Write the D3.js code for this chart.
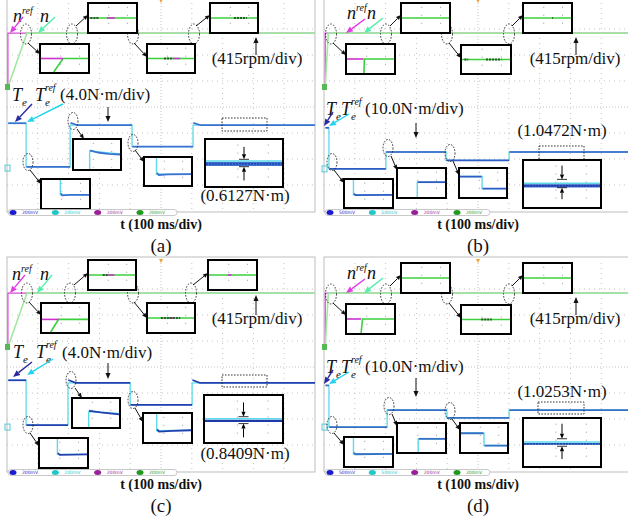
<!DOCTYPE html>
<html><head><meta charset="utf-8">
<script src="https://cdn.jsdelivr.net/npm/d3@7"></script>
<style>body{margin:0;background:#fff}svg{display:block}</style>
</head><body>
<svg id="c" width="628" height="522"></svg>
<script>
// ================= DATA =================
const panelNames = ["(a)", "(b)", "(c)", "(d)"];
const timeLabel = "t (100 ms/div)";
const speedDivLabel = "(415rpm/div)";
const torqueDivLabel = ["(4.0N·m/div)", "(10.0N·m/div)", "(4.0N·m/div)", "(10.0N·m/div)"];
const rippleLabel = ["(0.6127N·m)", "(1.0472N·m)", "(0.8409N·m)", "(1.0253N·m)"];
const torquePerDiv = [4, 10, 4, 10];          // N·m per division
const rpmPerDiv = 415;                         // rpm per division
const speedRefRpm = [860, 860, 860, 860];      // speed reference (rpm)
const refStepMs = [3, 4, 3, 4];                // time of speed reference step
const speedReachMs = [65, 14, 65, 14];         // time speed reaches reference
const torqueStepMs = [[3, 62, 205, 406, 604], [4, 16, 201, 396, 601], [3, 62, 198, 400, 601], [4, 16, 205, 399, 601]];
const torqueLevelNm = [[6.9, 0.2, 6.6, 3.3, 6.6], [15.8, 0, 6.5, 3.3, 6.5], [7.2, 0.3, 6.8, 3.4, 6.8], [16, 0, 6.5, 3.5, 6.5]];
const torqueOvershootNm = [0.35, 0, 0.45, 0];
const channelVolts = [["200mV", "200mV", "200mV", "200mV"], ["500mV", "500mV", "200mV", "200mV"],
                      ["200mV", "200mV", "200mV", "200mV"], ["500mV", "500mV", "200mV", "200mV"]];
const gridDivX = d3.range(0, 11);   // 10 horizontal divisions
const gridDivY = d3.range(-4, 5);   // 8 vertical divisions

// zoomed speed insets: [time frac, amplitude frac]
const speedZoom = [
  [{ meas: [[.27, 1], [.47, .5], [1, .5]], ref: [[0, .5], [.47, .5]], dark: [] },
   { meas: [[0, .5], [1, .5]], ref: [[.38, .5], [.55, .5]], dark: [[.03, .22]] },
   { meas: [[0, .5], [1, .5]], ref: [[.55, .5], [.7, .5]], dark: [[.35, .55]] },
   { meas: [[0, .5], [1, .5]], ref: [], dark: [[.5, .78]] }],
  [{ meas: [[.36, 1], [.37, .5], [1, .5]], ref: [[0, .5], [.35, .5]], dark: [] },
   { meas: [[0, .5], [1, .5]], ref: [], dark: [] },
   { meas: [[0, .5], [1, .5]], ref: [], dark: [[.05, .13], [.5, .82]] },
   { meas: [[0, .5], [1, .5]], ref: [], dark: [[.6, .62]] }],
  [{ meas: [[.19, 1], [.36, .55], [1, .55]], ref: [[0, .55], [.36, .55]], dark: [] },
   { meas: [[0, .5], [1, .5]], ref: [[.42, .5], [.55, .5]], dark: [[.3, .42]] },
   { meas: [[0, .5], [1, .5]], ref: [[.45, .5], [.55, .5]], dark: [[.28, .7]] },
   { meas: [[0, .5], [1, .5]], ref: [[.4, .5], [.48, .5]], dark: [] }],
  [{ meas: [[.3, 1], [.33, .5], [1, .5]], ref: [[0, .5], [.3, .5]], dark: [] },
   { meas: [[0, .5], [1, .5]], ref: [], dark: [] },
   { meas: [[0, .5], [1, .5]], ref: [], dark: [[.4, .62]] },
   { meas: [[0, .5], [1, .5]], ref: [], dark: [] }]
];
// zoomed torque insets (transients)
const torqueZoom = [
  [{ ref: [[.39, 0], [.39, .53], [1, .53]], meas: [[.4, .47], [.43, .55], [.6, .53], [1, .53]] },
   { ref: [[.34, 1], [.34, .38], [1, .48]], meas: [[.35, .36], [.4, .38], [.55, .44], [.75, .48], [1, .5]] },
   { ref: [[.25, 0], [.25, .6], [1, .6]], meas: [[.26, .55], [.3, .63], [.5, .61], [1, .6]] }],
  [{ ref: [[.18, 0], [.18, .55], [1, .55]], meas: [[.19, .5], [.22, .56], [1, .55]] },
   { ref: [[.41, 1], [.41, .47], [1, .47]], meas: [[.42, .47], [1, .47]] },
   { ref: [[0, .27], [.48, .27], [.48, .7], [1, .7]], meas: [[0, .27], [.47, .27], [NaN, NaN], [.49, .7], [1, .7]] }],
  [{ ref: [[.37, 0], [.37, .55], [1, .55]], meas: [[.38, .5], [.42, .57], [1, .55]] },
   { ref: [[.34, 1], [.34, .45], [1, .52]], meas: [[.35, .42], [.4, .43], [.6, .48], [1, .55]] },
   { ref: [[.27, 0], [.27, .6], [1, .58]], meas: [[.28, .55], [.32, .63], [.6, .6], [1, .58]] }],
  [{ ref: [[.18, 0], [.18, .57], [1, .57]], meas: [[.19, .52], [.22, .58], [1, .57]] },
   { ref: [[.43, 1], [.43, .53], [1, .53]], meas: [[.44, .53], [1, .53]] },
   { ref: [[0, .33], [.5, .33], [.5, .77], [1, .77]], meas: [[0, .33], [.49, .33], [NaN, NaN], [.51, .77], [1, .77]] }]
];
// steady-state ripple band in zoomed inset: [centre frac, width frac]
const rippleBand = [[.52, .09], [.54, .07], [.54, .05], [.53, .04]];

// ================= LAYOUT / STYLE =================
const panelOffset = [[0, 0], [317, 0], [0, 260], [317, 260]];
const speedZeroDiv = 0.77;
const torqueZeroDiv = [-2.35, -2.38, -2.31, -2.31];
const measColor = ["#3b72d2", "#2f5cc4", "#2240b0", "#3470c4"];
const C = { mag: "#d64ad6", green: "#9fe89f", igreen: "#3ccf3c", cyan: "#5fd9ea", grid: "#c4c4c4" };
const serif = "'Liberation Serif','Times New Roman',serif";

const layouts = [
  { sIn: [[40, 44, 49, 29], [88, 3, 49, 30], [147, 44, 48, 29], [210, 3, 48, 30]],
    sEl: [[26, 34], [72, 34], [133, 34], [194, 34]],
    sAr: [[28, 43, 40, 54], [76, 26, 88, 15], [134, 43, 147, 57], [196, 26, 210, 15]],
    tIn: [[41, 179, 49, 30], [73, 139, 48, 31], [144, 157, 48, 29], [205, 139, 78, 48]],
    tEl: [[28, 162], [73, 121], [133, 143]],
    tAr: [[30, 170, 41, 184], [77, 129, 84, 139], [135, 150, 144, 162]],
    rect: [222, 118, 45, 13], ripL: [245, 201], rpmL: [257, 64], rpmA: [256, 55, 37],
    nref: [13, 22], n: [40, 22], nrefA: [23, 17, 10, 33], nA: [55, 17, 38, 33],
    te: [12, 101], teref: [35, 101], divL: [60, 100], teA: [32, 104, 15, 122], terefA: [63, 104, 27, 122], down: [108, 107, 122],
    ripA: [.15, .42, .88, .58], barEnd: 177 },
  { sIn: [[29, 44, 49, 30], [84, 3, 49, 30], [144, 45, 50, 29], [206, 3, 49, 30]],
    sEl: [[14, 34], [69, 34], [130, 34], [192, 34]],
    sAr: [[16, 43, 29, 55], [73, 26, 84, 15], [132, 43, 144, 58], [195, 26, 206, 15]],
    tIn: [[27, 179, 49, 29], [80, 168, 49, 30], [142, 168, 48, 30], [206, 160, 78, 48]],
    tEl: [[15, 162], [71, 148], [133, 153]],
    tAr: [[17, 170, 27, 183], [74, 156, 80, 170], [136, 161, 142, 175]],
    rect: [222, 146, 45, 14], ripL: [245, 136], rpmL: [258, 64], rpmA: [259, 55, 37],
    nref: [30, 19], n: [50, 19], nrefA: [48, 19, 29, 33], nA: [66, 18, 47, 33],
    te: [9, 115], teref: [24, 115], divL: [48, 114], teA: [16, 112, 7, 126], terefA: [32, 114, 12, 126], down: [99, 123, 138],
    ripA: [.1, .4, .83, .58], barEnd: 173 },
  { sIn: [[41, 43, 48, 30], [88, 0, 48, 30], [147, 43, 48, 30], [208, 0, 49, 30]],
    sEl: [[27, 33], [70, 33], [133, 33], [191, 33]],
    sAr: [[29, 42, 41, 55], [74, 25, 88, 13], [134, 42, 147, 58], [193, 25, 208, 13]],
    tIn: [[39, 178, 49, 30], [72, 138, 48, 30], [143, 153, 49, 30], [204, 135, 79, 48]],
    tEl: [[28, 165], [71, 120], [133, 140]],
    tAr: [[30, 173, 39, 186], [75, 128, 82, 138], [135, 148, 143, 162]],
    rect: [222, 115, 45, 12], ripL: [245, 199], rpmL: [257, 64], rpmA: [256, 55, 35],
    nref: [12, 20], n: [40, 20], nrefA: [25, 15, 10, 33], nA: [52, 15, 37, 33],
    te: [13, 98], teref: [36, 98], divL: [62, 98], teA: [32, 102, 13, 117], terefA: [53, 99, 27, 115], down: [108, 103, 119],
    ripA: [.14, .45, .9, .6], barEnd: 177 },
  { sIn: [[29, 44, 49, 30], [84, 3, 49, 30], [144, 45, 50, 29], [206, 3, 49, 30]],
    sEl: [[14, 34], [69, 34], [130, 34], [192, 34]],
    sAr: [[16, 43, 29, 55], [73, 26, 84, 15], [132, 43, 144, 58], [195, 26, 206, 15]],
    tIn: [[27, 177, 49, 30], [80, 163, 49, 30], [143, 163, 48, 30], [206, 158, 78, 49]],
    tEl: [[15, 165], [72, 146], [133, 151]],
    tAr: [[17, 173, 27, 185], [75, 154, 80, 166], [135, 159, 143, 170]],
    rect: [221, 142, 46, 12], ripL: [245, 137], rpmL: [258, 64], rpmA: [259, 55, 37],
    nref: [30, 19], n: [50, 19], nrefA: [48, 19, 29, 33], nA: [66, 18, 47, 33],
    te: [9, 113], teref: [24, 113], divL: [48, 112], teA: [16, 110, 7, 124], terefA: [32, 112, 12, 124], down: [99, 118, 137],
    ripA: [.1, .42, .85, .58], barEnd: 173 }
];

// ================= DRAWING =================
const svg = d3.select("#c");
svg.append("rect").attr("width", 628).attr("height", 522).attr("fill", "#fff");

function arrow(g, x1, y1, x2, y2, color, w, head) {
  const a = Math.atan2(y2 - y1, x2 - x1);
  const bx = x2 - head * Math.cos(a), by = y2 - head * Math.sin(a);
  g.append("line").attr("x1", x1).attr("y1", y1).attr("x2", bx).attr("y2", by)
    .attr("stroke", color).attr("stroke-width", w);
  const hw = head * 0.42;
  g.append("path").attr("d", `M${x2},${y2}L${bx + hw * Math.sin(a)},${by - hw * Math.cos(a)}L${bx - hw * Math.sin(a)},${by + hw * Math.cos(a)}Z`)
    .attr("fill", color);
}

function insetBox(g, r) {
  const ig = g.append("g");
  ig.append("rect").attr("x", r[0]).attr("y", r[1]).attr("width", r[2]).attr("height", r[3])
    .attr("fill", "#fff").attr("stroke", "#000").attr("stroke-width", 2);
  const u = d3.scaleLinear().domain([0, 1]).range([r[0] + 1, r[0] + r[2] - 1]);
  const v = d3.scaleLinear().domain([0, 1]).range([r[1] + 1, r[1] + r[3] - 1]);
  [0.42, 0.82].forEach(f => ig.append("line").attr("x1", u(f)).attr("x2", u(f)).attr("y1", v(0.1)).attr("y2", v(0.95))
    .attr("stroke", "#999").attr("stroke-width", 1).attr("stroke-dasharray", "1,7"));
  return { ig, u, v };
}

function drawPanel(i) {
  const L = layouts[i];
  const g = svg.append("g").attr("transform", `translate(${panelOffset[i][0]},${panelOffset[i][1]})`);
  const x = d3.scaleLinear().domain([0, 1000]).range([7, 315]);
  const xd = d3.scaleLinear().domain([0, 10]).range([7, 315]);
  const yd = d3.scaleLinear().domain([-4, 4]).range([211, 3]);
  const ySpeed = rpm => yd(speedZeroDiv + rpm / rpmPerDiv);
  const yTorque = nm => yd(torqueZeroDiv[i] + nm / torquePerDiv[i]);
  const clipId = "clip" + i;
  g.append("clipPath").attr("id", clipId).append("rect").attr("x", 7).attr("y", -2).attr("width", 310).attr("height", 214);
  g.append("rect").attr("x", 7).attr("y", -3).attr("width", 308).attr("height", 215)
    .attr("fill", "none").attr("stroke", "#bdbdbd").attr("stroke-width", 1);
  const grid = g.append("g");
  gridDivX.slice(1, -1).forEach(d => grid.append("line").attr("x1", xd(d)).attr("x2", xd(d)).attr("y1", yd(4)).attr("y2", yd(-4))
    .attr("stroke", C.grid).attr("stroke-width", 1).attr("stroke-dasharray", d === 5 ? "1,2" : "1,4"));
  gridDivY.slice(1, -1).forEach(d => grid.append("line").attr("x1", xd(0)).attr("x2", xd(10)).attr("y1", yd(d)).attr("y2", yd(d))
    .attr("stroke", C.grid).attr("stroke-width", 1).attr("stroke-dasharray", d === 0 ? "1,2" : "1,4"));
  g.append("path").attr("d", `M${xd(5) - 2},-1L${xd(5) + 2},-1L${xd(5)},3Z`).attr("fill", "#f0a030");

  const tr = g.append("g").attr("clip-path", `url(#${clipId})`);
  const line = d3.line().defined(d => !isNaN(d[1]));
  const t0 = refStepMs[i], ref = speedRefRpm[i];
  tr.append("path").attr("d", line([[x(t0), ySpeed(0)], [x(t0), ySpeed(ref)], [x(1000), ySpeed(ref)]]))
    .attr("fill", "none").attr("stroke", C.mag).attr("stroke-width", 1.2);
  tr.append("path").attr("d", line([[x(t0), ySpeed(0)], [x(speedReachMs[i]), ySpeed(ref)], [x(1000), ySpeed(ref)]]))
    .attr("fill", "none").attr("stroke", C.green).attr("stroke-width", 1.6);
  const ts = torqueStepMs[i], lv = torqueLevelNm[i];
  const refPts = [];
  ts.forEach((t, k) => {
    if (k > 0) refPts.push([x(t), yTorque(lv[k - 1])]);
    refPts.push([x(t), yTorque(lv[k])]);
  });
  refPts.push([x(1000), yTorque(lv[lv.length - 1])]);
  tr.append("path").attr("d", line(refPts)).attr("fill", "none").attr("stroke", C.cyan).attr("stroke-width", 1.3);
  ts.forEach((t, k) => {
    const tEnd = k < ts.length - 1 ? ts[k + 1] : 1000;
    const pts = [];
    const rising = k > 0 && lv[k] > lv[k - 1];
    if (rising && torqueOvershootNm[i] > 0) {
      pts.push([x(t + 1), yTorque(lv[k] + torqueOvershootNm[i])], [x(t + 25), yTorque(lv[k])]);
    } else pts.push([x(t + 1), yTorque(lv[k])]);
    pts.push([x(tEnd), yTorque(lv[k])]);
    tr.append("path").attr("d", line(pts)).attr("fill", "none").attr("stroke", measColor[i]).attr("stroke-width", 1.7);
  });
  g.append("rect").attr("x", 5).attr("y", ySpeed(0) - 3).attr("width", 5).attr("height", 6).attr("fill", "#55b855");
  g.append("rect").attr("x", 5).attr("y", yTorque(0) - 3).attr("width", 5).attr("height", 6).attr("fill", "none")
    .attr("stroke", "#55c8d8").attr("stroke-width", 1);

  const dash = g.append("g").attr("fill", "none").attr("stroke", "#222").attr("stroke-width", 0.9).attr("stroke-dasharray", "1.6,1.4");
  L.sEl.forEach(e => dash.append("ellipse").attr("cx", e[0]).attr("cy", e[1]).attr("rx", 5.5).attr("ry", 10));
  L.tEl.forEach(e => dash.append("ellipse").attr("cx", e[0]).attr("cy", e[1]).attr("rx", 5).attr("ry", 8.5));
  dash.append("rect").attr("x", L.rect[0]).attr("y", L.rect[1]).attr("width", L.rect[2]).attr("height", L.rect[3]);
  L.sAr.concat(L.tAr).forEach(a => arrow(g, a[0], a[1], a[2], a[3], "#111", 1, 5));

  L.sIn.forEach((r, k) => {
    const { ig, u, v } = insetBox(g, r);
    const z = speedZoom[i][k];
    const pl = d3.line().x(d => u(d[0])).y(d => v(d[1]));
    ig.append("path").attr("d", pl(z.meas)).attr("fill", "none").attr("stroke", C.igreen).attr("stroke-width", 1.6);
    if (z.ref.length) ig.append("path").attr("d", pl(z.ref)).attr("fill", "none").attr("stroke", "#cc33cc").attr("stroke-width", 1.6);
    const lvl = z.meas[z.meas.length - 1][1];
    z.dark.forEach(s => ig.append("line").attr("x1", u(s[0])).attr("x2", u(s[1])).attr("y1", v(lvl)).attr("y2", v(lvl))
      .attr("stroke", "#2a5a2a").attr("stroke-width", 1.8).attr("stroke-dasharray", "2,1"));
  });
  L.tIn.forEach((r, k) => {
    const { ig, u, v } = insetBox(g, r);
    if (k < 3) {
      const z = torqueZoom[i][k];
      const pl = d3.line().defined(d => !isNaN(d[0])).x(d => u(d[0])).y(d => v(d[1]));
      ig.append("path").attr("d", pl(z.ref)).attr("fill", "none").attr("stroke", C.cyan).attr("stroke-width", 1.4);
      ig.append("path").attr("d", pl(z.meas)).attr("fill", "none").attr("stroke", measColor[i]).attr("stroke-width", 1.8);
    } else {
      const b = rippleBand[i];
      ig.append("rect").attr("x", u(0)).attr("width", u(1) - u(0)).attr("y", v(b[0] - b[1] / 2)).attr("height", v(b[1]) - v(0))
        .attr("fill", measColor[i]);
      ig.append("line").attr("x1", u(0)).attr("x2", u(1)).attr("y1", v(b[0])).attr("y2", v(b[0]))
        .attr("stroke", "#1a2a9a").attr("stroke-width", 1).attr("stroke-dasharray", "2,1");
      ig.append("line").attr("x1", u(0)).attr("x2", u(1)).attr("y1", v(b[0] - b[1] / 2 - 0.02)).attr("y2", v(b[0] - b[1] / 2 - 0.02))
        .attr("stroke", C.cyan).attr("stroke-width", 1.5);
      const cx = u(0.5), ra = L.ripA;
      arrow(ig, cx, v(ra[0]), cx, v(ra[1]), "#000", 1, 5);
      arrow(ig, cx, v(ra[2]), cx, v(ra[3]), "#000", 1, 5);
      [ra[1], ra[3]].forEach(f => ig.append("line").attr("x1", cx - 5).attr("x2", cx + 5).attr("y1", v(f)).attr("y2", v(f)).attr("stroke", "#000").attr("stroke-width", 0.8));
    }
  });

  const txt = (xx, yy, s, size, opts = {}) => g.append("text").attr("x", xx).attr("y", yy).attr("font-family", serif)
    .attr("font-size", size).attr("text-anchor", opts.anchor || "start").attr("font-style", opts.italic ? "italic" : "normal")
    .attr("font-weight", opts.bold ? "bold" : "normal").attr("fill", "#111").text(s);
  txt(L.rpmL[0], L.rpmL[1], speedDivLabel, 17, { anchor: "middle" });
  arrow(g, L.rpmA[0], L.rpmA[1], L.rpmA[0], L.rpmA[2], "#111", 1, 6);
  txt(L.ripL[0], L.ripL[1], rippleLabel[i], 17, { anchor: "middle" });
  txt(L.divL[0], L.divL[1], torqueDivLabel[i], 17);
  arrow(g, L.down[0], L.down[1], L.down[0], L.down[2], "#111", 1, 6);
  const sym = (xx, yy, base, sub, sup) => {
    const t = g.append("text").attr("x", xx).attr("y", yy).attr("font-family", serif).attr("font-size", 18).attr("font-style", "italic").attr("fill", "#111");
    t.append("tspan").text(base);
    if (sub) t.append("tspan").attr("font-size", 11).attr("dy", 5).text(sub);
    if (sup) t.append("tspan").attr("font-size", 10).attr("dx", sub ? -5 : 0).attr("dy", sub ? -15 : -8).text(sup);
  };
  sym(L.nref[0], L.nref[1], "n", null, "ref");
  sym(L.n[0], L.n[1], "n", null, null);
  sym(L.te[0], L.te[1], "T", "e", null);
  sym(L.teref[0], L.teref[1], "T", "e", "ref");
  arrow(g, L.nrefA[0], L.nrefA[1], L.nrefA[2], L.nrefA[3], "#e23ce2", 1.4, 7);
  arrow(g, L.nA[0], L.nA[1], L.nA[2], L.nA[3], "#55eeaa", 1.4, 7);
  arrow(g, L.teA[0], L.teA[1], L.teA[2], L.teA[3], "#2b2b9e", 1.4, 7);
  arrow(g, L.terefA[0], L.terefA[1], L.terefA[2], L.terefA[3], "#22d4ee", 1.4, 7);

  const sb = g.append("g");
  sb.append("rect").attr("x", 8).attr("y", 209.5).attr("width", L.barEnd - 8).attr("height", 6).attr("rx", 3)
    .attr("fill", "#fff").attr("stroke", "#bbb").attr("stroke-width", 0.8);
  const chCol = ["#1b1bd0", "#20c8c8", "#9a1f9a", "#1f9a1f"];
  const chX = d3.scalePoint().domain([0, 1, 2, 3]).range([13, 140]);
  channelVolts[i].forEach((s, k) => {
    sb.append("ellipse").attr("cx", chX(k)).attr("cy", 212.5).attr("rx", 3.5).attr("ry", 2.5).attr("fill", chCol[k]);
    sb.append("text").attr("x", chX(k) + 9).attr("y", 214.3).attr("font-family", "DejaVu Sans").attr("font-size", 4.5).attr("fill", chCol[k]).text(s);
  });
  txt(161, 229, timeLabel, 14, { anchor: "middle", bold: true });
  txt(161, 252, panelNames[i], 19, { anchor: "middle" });
}

[0, 1, 2, 3].forEach(drawPanel);
</script>
</body></html>
